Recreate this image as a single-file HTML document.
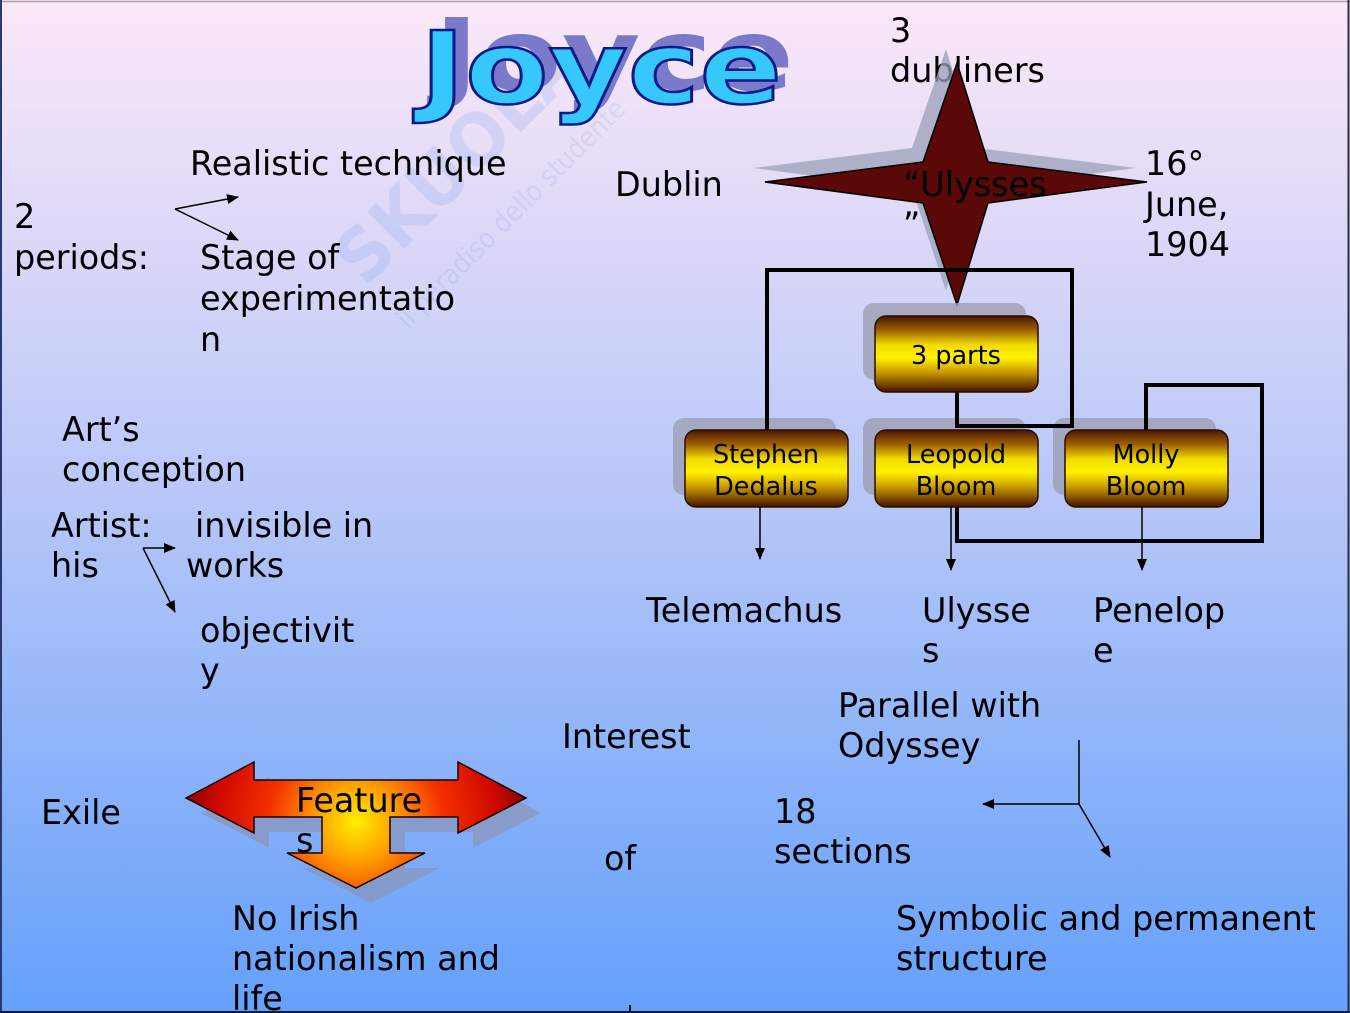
<!DOCTYPE html>
<html>
<head>
<meta charset="utf-8">
<style>
html,body{margin:0;padding:0;background:#fff;}
svg{display:block;}
text{font-family:"DejaVu Sans","Liberation Sans",sans-serif;}
</style>
</head>
<body>
<svg width="1350" height="1013" viewBox="0 0 1350 1013" xmlns="http://www.w3.org/2000/svg">
<defs>
<linearGradient id="bg" x1="0" y1="0" x2="0" y2="1">
<stop offset="0" stop-color="#fce8f8"/>
<stop offset="0.5" stop-color="#b6c6f8"/>
<stop offset="1" stop-color="#64a0fb"/>
</linearGradient>
<linearGradient id="box" x1="0" y1="0" x2="0" y2="1">
<stop offset="0" stop-color="#4a1600"/>
<stop offset="0.18" stop-color="#9a5c00"/>
<stop offset="0.38" stop-color="#f2dc00"/>
<stop offset="0.55" stop-color="#fff200"/>
<stop offset="0.74" stop-color="#c89a00"/>
<stop offset="1" stop-color="#461200"/>
</linearGradient>
<radialGradient id="feat" gradientUnits="userSpaceOnUse" cx="356" cy="822" r="175">
<stop offset="0" stop-color="#fff000"/>
<stop offset="0.22" stop-color="#ffa000"/>
<stop offset="0.5" stop-color="#f43000"/>
<stop offset="0.8" stop-color="#d00800"/>
<stop offset="1" stop-color="#800000"/>
</radialGradient>
<marker id="ah" markerUnits="userSpaceOnUse" markerWidth="12" markerHeight="12" viewBox="0 0 12 12" refX="11" refY="6" orient="auto">
<path d="M0,1 L12,6 L0,11 Z" fill="#000"/>
</marker>
</defs>

<rect x="0" y="0" width="1350" height="1013" fill="url(#bg)"/>

<!-- watermark -->
<g opacity="0.16">
<text transform="translate(365,288) rotate(-45)" x="0" y="0" font-size="72" font-weight="bold" fill="#5f90e0" textLength="310" lengthAdjust="spacingAndGlyphs">SKUOLA</text>
<text transform="translate(408,330) rotate(-45)" x="0" y="0" font-size="28" fill="#6f98e0" textLength="310" lengthAdjust="spacingAndGlyphs">il paradiso dello studente</text>
</g>

<!-- title Joyce -->
<text x="434" y="90" font-size="100" font-weight="bold" fill="#7b79c9" textLength="360" lengthAdjust="spacingAndGlyphs">Joyce</text>
<text x="420" y="103" font-size="100" font-weight="bold" fill="#36c8fb" stroke="#0a1a8a" stroke-width="2.5" textLength="362" lengthAdjust="spacingAndGlyphs">Joyce</text>

<!-- texts -->
<g font-size="33.4" fill="#000">
<text x="190" y="175">Realistic technique</text>
<text x="14" y="228">2</text>
<text x="14" y="269">periods:</text>
<text x="200" y="269">Stage of</text>
<text x="200" y="310">experimentatio</text>
<text x="200" y="351">n</text>
<text x="62" y="441">Art’s</text>
<text x="62" y="481">conception</text>
<text x="51" y="537">Artist:</text>
<text x="51" y="577">his</text>
<text x="195" y="537">invisible in</text>
<text x="186" y="577">works</text>
<text x="200" y="642">objectivit</text>
<text x="200" y="682">y</text>
<text x="41" y="824">Exile</text>
<text x="232" y="930">No Irish</text>
<text x="232" y="970">nationalism and</text>
<text x="232" y="1010">life</text>
<text x="890" y="42">3</text>
<text x="890" y="82">dubliners</text>
<text x="615" y="196">Dublin</text>
<text x="1145" y="175">16°</text>
<text x="1145" y="216">June,</text>
<text x="1145" y="256">1904</text>
<text x="646" y="622">Telemachus</text>
<text x="922" y="622">Ulysse</text>
<text x="922" y="662">s</text>
<text x="1093" y="622">Penelop</text>
<text x="1093" y="662">e</text>
<text x="838" y="717">Parallel with</text>
<text x="838" y="757">Odyssey</text>
<text x="562" y="748">Interest</text>
<text x="774" y="823">18</text>
<text x="774" y="863">sections</text>
<text x="604" y="870">of</text>
<text x="896" y="930">Symbolic and permanent</text>
<text x="896" y="970">structure</text>
</g>
<line x1="630" y1="1005" x2="630" y2="1013" stroke="#000" stroke-width="2"/>

<!-- star -->
<polygon points="946,49 977,148 1136,168 977,189 946,291 912,189 754,168 912,148" fill="#9aa0b8" opacity="0.75"/>
<polygon points="957,63 988,162 1147,182 988,203 957,305 923,203 765,182 923,162" fill="#5a0808" stroke="#000" stroke-width="1.5"/>
<text x="903" y="196" font-size="33.4" fill="#000">“Ulysses</text>
<text x="903" y="236" font-size="33.4" fill="#000">”</text>

<!-- box shadows -->
<g fill="#9c9fb4" opacity="0.8">
<rect x="863" y="303" width="163" height="77" rx="11"/>
<rect x="673" y="418" width="163" height="77" rx="11"/>
<rect x="863" y="418" width="163" height="77" rx="11"/>
<rect x="1053" y="418" width="163" height="77" rx="11"/>
</g>

<!-- connectors -->
<g fill="none" stroke="#000" stroke-width="4">
<polyline points="767,430 767,270 1072,270 1072,426 957,426 957,392"/>
<polyline points="1146,430 1146,385 1262,385 1262,541 957,541 957,507"/>
</g>

<!-- boxes -->
<g stroke="#2a0a00" stroke-width="1.5" fill="url(#box)">
<rect x="875" y="316" width="163" height="76" rx="11"/>
<rect x="685" y="430" width="163" height="77" rx="11"/>
<rect x="875" y="430" width="163" height="77" rx="11"/>
<rect x="1065" y="430" width="163" height="77" rx="11"/>
</g>
<g font-size="25.5" fill="#000" text-anchor="middle">
<text x="956" y="364">3 parts</text>
<text x="766" y="463">Stephen</text>
<text x="766" y="495">Dedalus</text>
<text x="956" y="463">Leopold</text>
<text x="956" y="495">Bloom</text>
<text x="1146" y="463">Molly</text>
<text x="1146" y="495">Bloom</text>
</g>

<!-- thin arrows -->
<g stroke="#000" stroke-width="1.5" fill="none" marker-end="url(#ah)">
<line x1="760" y1="507" x2="760" y2="559"/>
<line x1="951" y1="507" x2="951" y2="570"/>
<line x1="1142" y1="507" x2="1142" y2="570"/>
<line x1="175" y1="209" x2="238" y2="197"/>
<line x1="175" y1="209" x2="238" y2="240"/>
<line x1="143" y1="548" x2="175" y2="548"/>
<line x1="143" y1="548" x2="175" y2="612"/>
<line x1="1079" y1="804" x2="983" y2="804"/>
<line x1="1079" y1="804" x2="1110" y2="857"/>
</g>
<line x1="1079" y1="740" x2="1079" y2="804" stroke="#000" stroke-width="1.5"/>

<!-- feature arrow -->
<polygon transform="translate(15,15)" points="186,798 254,762 254,780 458,780 458,762 526,798 458,833 458,817 390,817 390,853 425,853 356,888 287,853 322,853 322,817 254,817 254,833" fill="#8a94b8" opacity="0.7"/>
<polygon points="186,798 254,762 254,780 458,780 458,762 526,798 458,833 458,817 390,817 390,853 425,853 356,888 287,853 322,853 322,817 254,817 254,833" fill="url(#feat)" stroke="#1a0000" stroke-width="1.5"/>
<text x="296" y="812" font-size="33.4" fill="#000">Feature</text>
<text x="296" y="852" font-size="33.4" fill="#000">s</text>

<!-- border -->
<line x1="0" y1="1.5" x2="1350" y2="1.5" stroke="#a8a0b0" stroke-width="1.5"/>
<line x1="1" y1="0" x2="1" y2="1013" stroke="#2a3a70" stroke-width="2"/>
<line x1="1348.5" y1="0" x2="1348.5" y2="1013" stroke="#2a3040" stroke-width="2"/>
<line x1="0" y1="1012" x2="1350" y2="1012" stroke="#0a1a40" stroke-width="2"/>
</svg>
</body>
</html>
